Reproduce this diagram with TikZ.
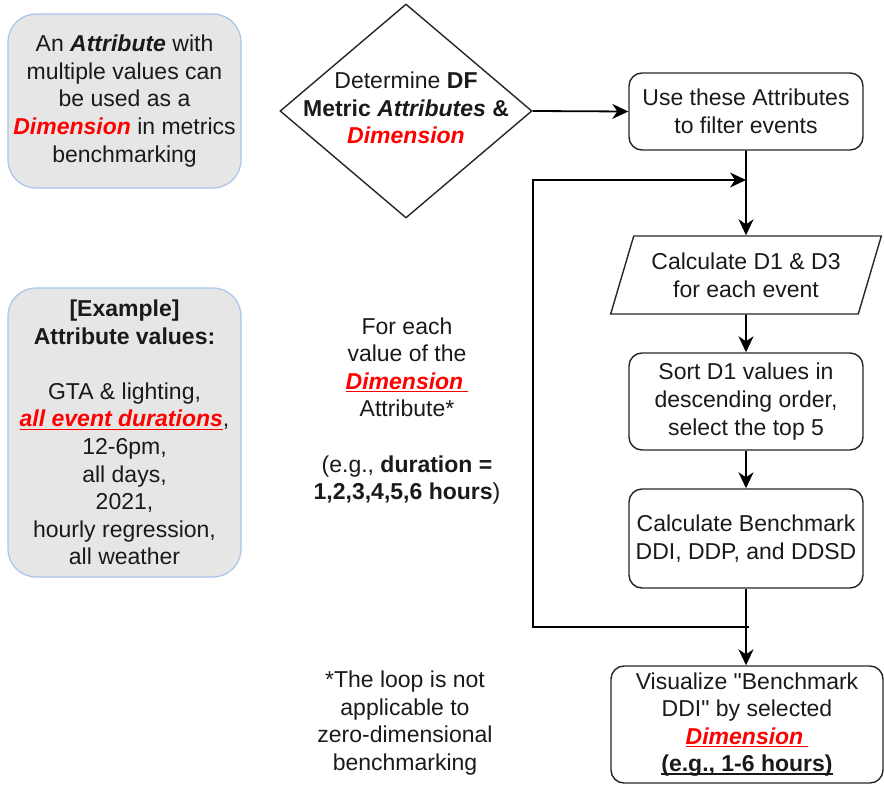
\documentclass[tikz,border=0pt]{standalone}
\usepackage{fontspec}
\setmainfont{Liberation Sans}
\usetikzlibrary{arrows.meta,shapes.geometric}
\definecolor{boxgray}{HTML}{E6E6E6}
\definecolor{boxblue}{HTML}{A9C4EB}
\definecolor{txt}{HTML}{1A1A1A}
\newcommand\myul[1]{\setbox0\hbox{#1}\rlap{\rule[-3pt]{\wd0}{1.4pt}}\box0}
\newcommand\dimw{\textcolor{red}{\textbf{\textit{Dimension}}}}
\tikzset{
  every node/.style={font=\fontsize{23}{27.6}\selectfont, text=txt, align=center},
  notebox/.style={draw=boxblue, fill=boxgray, line width=1.2pt, rounded corners=28pt, inner sep=0pt},
  stepbox/.style={draw=black!85, line width=1.4pt, rounded corners=13pt, inner sep=0pt},
  conn/.style={draw=black, line width=1.8pt},
  arr/.style={conn, -{Stealth[length=16pt,width=15pt,inset=5pt]}},
  plain/.style={inner sep=0pt}
}
\begin{document}
\begin{tikzpicture}[x=1pt,y=-1pt]
\useasboundingbox (0,0) rectangle (884,787);

% left notes
\node[notebox, minimum width=233pt, minimum height=174pt] (note1) at (124.5,101)
  {An \textbf{\textit{Attribute}} with\\ multiple values can\\ be used as a\\ \dimw{} in metrics\\ benchmarking};
\node[notebox, minimum width=233pt, minimum height=289pt] (note2) at (124.5,432.5)
  {\textbf{[Example]}\\ \textbf{Attribute values:}\\[27.6pt]
   GTA \& lighting,\\
   \textcolor{red}{\myul{\textbf{\textit{all event durations}}}},\\
   12-6pm,\\ all days,\\ 2021,\\ hourly regression,\\ all weather};

% diamond
\node[draw=black!85, line width=1.4pt, diamond, minimum width=252pt, minimum height=214pt, inner sep=0pt] (dia) at (406,111) {};
\node[plain] (diat) at (406,108) {Determine \textbf{DF}\\ \textbf{Metric \textit{Attributes} \&}\\ \dimw};

% flow boxes
\node[stepbox, minimum width=234pt, minimum height=77pt] (use) at (746,111.5)
  {Use these Attributes\\ to filter events};
\node[draw=black!85, line width=1.4pt, trapezium, trapezium left angle=66.4, trapezium right angle=113.6,
  trapezium stretches=true, minimum width=271pt, minimum height=78pt, inner sep=0pt] (par) at (746,275)
  {Calculate D1 \& D3\\ for each event};
\node[stepbox, minimum width=234pt, minimum height=97pt] (sort) at (746,401.5)
  {Sort D1 values in\\ descending order,\\ select the top 5};
\node[stepbox, minimum width=234pt, minimum height=99pt] (calc) at (746,538.5)
  {Calculate Benchmark\\ DDI, DDP, and DDSD};
\node[stepbox, minimum width=272pt, minimum height=117pt] (vis) at (747,724.5)
  {Visualize \textquotedbl Benchmark\\ DDI\textquotedbl{} by selected\\
   \textcolor{red}{\myul{\textbf{\textit{Dimension}}\hspace{5pt}}}\\
   \myul{\textbf{(e.g., 1-6 hours)}}};

% free texts
\node[plain] (loopt) at (407,411)
  {For each\\ value of the\\ \textcolor{red}{\myul{\textbf{\textit{Dimension}}\hspace{5pt}}}\\ Attribute*\\[27.6pt]
   (e.g., \textbf{duration =}\\ \textbf{1,2,3,4,5,6 hours})};
\node[plain] (foot) at (405,723)
  {*The loop is not\\ applicable to\\ zero-dimensional\\ benchmarking};

% loop coordinates
\coordinate (lpR) at (749,627);
\coordinate (lpL) at (533,627);
\coordinate (ltL) at (533,180);
\coordinate (ltR) at (746,180);

% connectors
\draw[arr] (dia.east) -- (use.west);
\draw[arr] (use.south) -- (par.north);
\draw[arr] (par.south) -- (sort.north);
\draw[arr] (sort.south) -- (calc.north);
\draw[arr] (calc.south) -- (calc.south |- vis.north);
\draw[arr] (lpR) -- (lpL) -- (ltL) -- (ltR);
\end{tikzpicture}
\end{document}
